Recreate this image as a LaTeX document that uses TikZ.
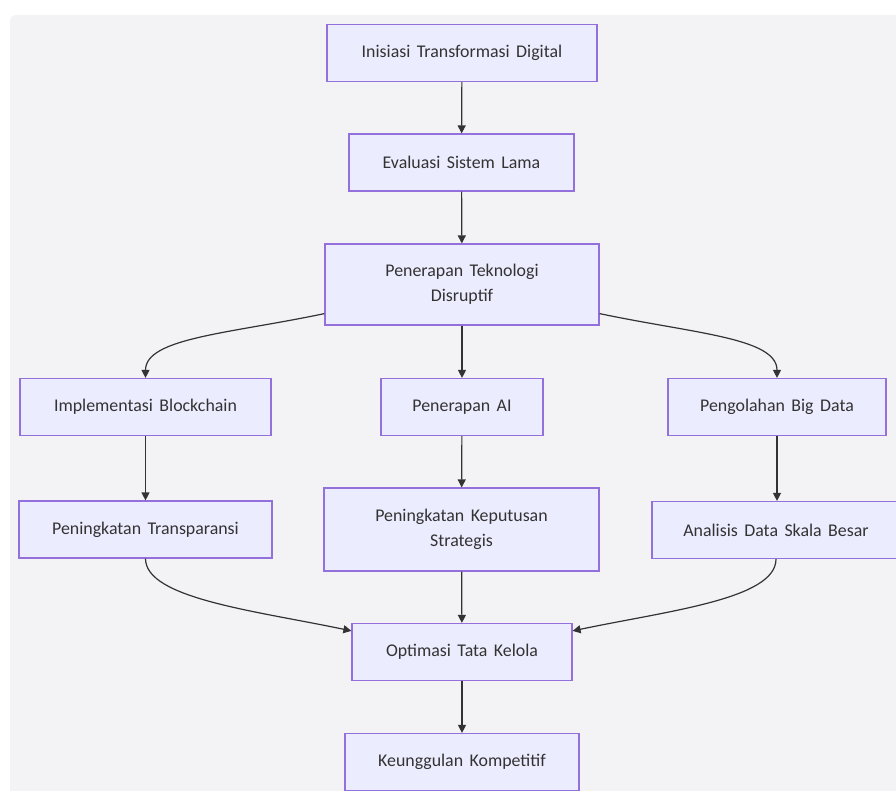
\documentclass[tikz,border=0pt]{standalone}
\usepackage{fontspec}
\setmainfont{Carlito}[WordSpace=1.6]
\usetikzlibrary{arrows.meta,calc}
\definecolor{boxfill}{HTML}{ECECFF}
\definecolor{boxline}{HTML}{9370DB}
\definecolor{ink}{HTML}{333333}
\definecolor{panel}{HTML}{F3F3F5}
\tikzset{
  box/.style={draw=boxline, fill=boxfill, line width=0.9pt, text=ink,
    minimum height=42.75pt, align=center, font=\fontsize{13.4}{18.75}\selectfont},
  arr/.style={draw=ink, line width=0.9pt, -{Triangle[length=6pt,width=6pt]}}
}

\begin{document}
\begin{tikzpicture}[x=0.75pt,y=-0.75pt]
\useasboundingbox (0,0) rectangle (896,790);
\fill[white] (0,0) rectangle (896,790);
\fill[panel, rounded corners=4pt] (10,15) rectangle (910,805);
\node[box, minimum width=202.5pt] (init) at (462,53) {Inisiasi Transformasi Digital};
\node[box, minimum width=168.75pt] (eval) at (461.5,162.5) {Evaluasi Sistem Lama};
\node[box, minimum width=205.5pt, minimum height=60.75pt] (disr) at (462,284.5) {Penerapan Teknologi\\Disruptif};
\node[box, minimum width=188.25pt] (chain) at (145.5,407) {Implementasi Blockchain};
\node[box, minimum width=121.5pt] (ai) at (462,407) {Penerapan AI};
\node[box, minimum width=163.5pt] (bigd) at (777,407) {Pengolahan Big Data};
\node[box, minimum width=189.75pt] (trans) at (145.5,529.5) {Peningkatan Transparansi};
\node[box, minimum width=206.25pt, minimum height=62.25pt] (kepu) at (461.5,529.5) {Peningkatan Keputusan\\Strategis};
\node[box, minimum width=186pt] (anal) at (776,530) {Analisis Data Skala Besar};
\node[box, minimum width=165pt] (opt) at (462,652) {Optimasi Tata Kelola};
\node[box, minimum width=175.5pt] (comp) at (462,762) {Keunggulan Kompetitif};
\draw[arr] (init) -- (eval);
\draw[arr] (eval) -- (disr);
\draw[arr] ($(disr.south west)+(0,-12)$) .. controls +(-95,20) and +(0,-40) .. (chain.north);
\draw[arr] (disr) -- (ai);
\draw[arr] ($(disr.south east)+(0,-12)$) .. controls +(95,20) and +(0,-40) .. (bigd.north);
\draw[arr] (chain) -- (trans);
\draw[arr] (ai) -- (kepu);
\draw[arr] (bigd.south) -- (bigd.south |- anal.north);
\draw[arr] (trans.south) .. controls +(0,40) and +(-95,-20) .. ($(opt.north west)+(0,8)$);
\draw[arr] (kepu) -- (opt);
\draw[arr] (anal.south) .. controls +(0,40) and +(95,-20) .. ($(opt.north east)+(0,8)$);
\draw[arr] (opt) -- (comp);
\end{tikzpicture}
\end{document}
